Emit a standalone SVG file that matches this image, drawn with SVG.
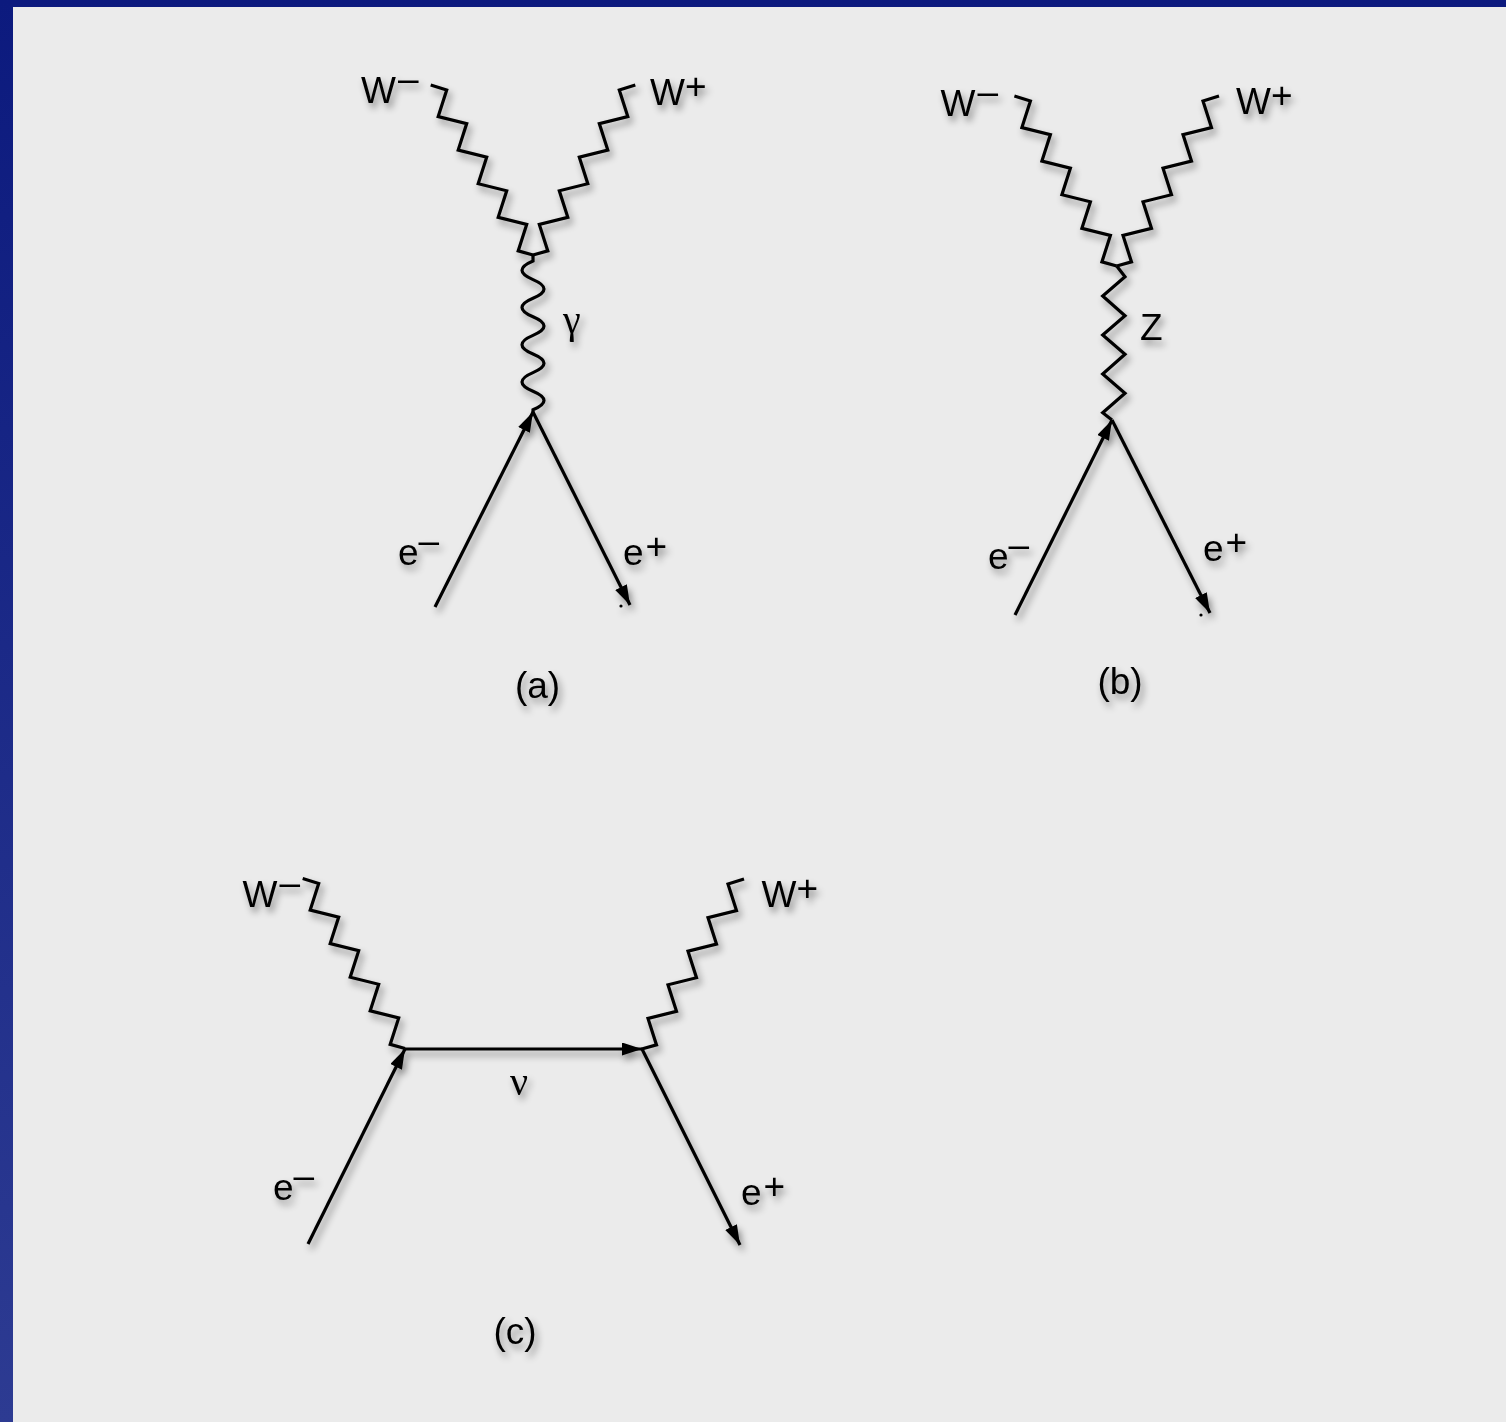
<svg xmlns="http://www.w3.org/2000/svg" width="1506" height="1422" viewBox="0 0 1506 1422">
<defs>
<linearGradient id="bg" x1="0" y1="0" x2="0" y2="1">
<stop offset="0" stop-color="#0c1a7e"/>
<stop offset="1" stop-color="#2d3b92"/>
</linearGradient>
<filter id="sh" x="-20%" y="-20%" width="140%" height="140%">
<feDropShadow dx="3" dy="5" stdDeviation="3.5" flood-color="#000" flood-opacity="0.42"/>
</filter>
<marker id="arr" markerUnits="userSpaceOnUse" markerWidth="21" markerHeight="14" refX="20" refY="6.5" orient="auto">
<path d="M0,0 L20,6.5 L0,13 Z" fill="#000"/>
</marker>
<path id="wm" d="M-102.3,-170 L-86.3,-165 L-94.8,-138.5 L-66.3,-131.4 L-74.8,-104.9 L-46.3,-97.8 L-54.8,-71.3 L-26.3,-64.2 L-34.8,-37.7 L-6.3,-30.6 L-14.8,-4.1 L0,0"/>
<path id="wp" d="M102.3,-170 L86.3,-165 L94.8,-138.5 L66.3,-131.4 L74.8,-104.9 L46.3,-97.8 L54.8,-71.3 L26.3,-64.2 L34.8,-37.7 L6.3,-30.6 L14.8,-4.1 L0,0"/>
</defs>
<style>
.ln{fill:none;stroke:#000;stroke-width:3.2;stroke-linejoin:miter;stroke-linecap:butt}
.ar{marker-end:url(#arr)}
.lbl{font-family:"Liberation Sans",Arial,Helvetica,sans-serif;font-size:37px;fill:#000}
.gk{font-family:"Liberation Serif","Times New Roman",serif;font-size:40px;fill:#000}
.cap{font-family:"Liberation Sans",Arial,Helvetica,sans-serif;font-size:37px;fill:#000;text-anchor:middle}
</style>
<rect x="0" y="0" width="1506" height="1422" fill="url(#bg)"/>
<rect x="13" y="7" width="1493" height="1415" fill="#ebebeb"/>

<g id="connectors" filter="url(#sh)">
<!-- diagram (a) -->
<use href="#wm" class="ln" transform="translate(533,255)"/>
<use href="#wp" class="ln" transform="translate(533,255)"/>
<path class="ln" d="M533,255 L533,261 Q511,270.3 533,279.6 T533,298.2 T533,316.8 T533,335.4 T533,354 T533,372.6 T533,391.2 T533,409.8 L533,412"/>
<line class="ln ar" x1="435" y1="607" x2="533" y2="412"/>
<line class="ln ar" x1="533" y1="412" x2="630" y2="605"/>
<circle cx="621" cy="606" r="1.6" fill="#000"/>
<!-- diagram (b) -->
<use href="#wm" class="ln" transform="translate(1116.7,266)"/>
<use href="#wp" class="ln" transform="translate(1116.7,266)"/>
<path class="ln" d="M1116.7,266 L1125,276.7 L1102.7,296 L1125,315.7 L1102.7,335 L1125,354.3 L1102.7,374 L1125,393.3 L1102.7,412.7 L1112,420"/>
<line class="ln ar" x1="1015" y1="615" x2="1112" y2="420"/>
<line class="ln ar" x1="1112" y1="420" x2="1210" y2="613"/>
<circle cx="1201" cy="615" r="1.6" fill="#000"/>
<!-- diagram (c) -->
<use href="#wm" class="ln" transform="translate(405,1048.5)"/>
<use href="#wp" class="ln" transform="translate(641.7,1049)"/>
<line class="ln ar" x1="308" y1="1244" x2="405" y2="1049"/>
<line class="ln ar" x1="405" y1="1049" x2="642" y2="1049"/>
<line class="ln ar" x1="642" y1="1049" x2="740" y2="1245"/>
</g>

<g id="labels" filter="url(#sh)">
<g id="a-wminus"><text class="lbl" x="361" y="103">W<tspan dx="2" dy="-12">–</tspan></text></g>
<g id="a-wplus"><text class="lbl" x="650" y="105">W<tspan dy="-6">+</tspan></text></g>
<g id="a-gamma"><text class="gk" x="563" y="333">γ</text></g>
<g id="a-eminus"><text class="lbl" x="398" y="565">e<tspan dy="-12">–</tspan></text></g>
<g id="a-eplus"><text class="lbl" x="623" y="565">e<tspan dx="2" dy="-6">+</tspan></text></g>
<g id="a-cap"><text class="cap" x="537.5" y="698">(a)</text></g>

<g id="b-wminus"><text class="lbl" x="940.5" y="116">W<tspan dx="2" dy="-12">–</tspan></text></g>
<g id="b-wplus"><text class="lbl" x="1236" y="113.5">W<tspan dy="-6">+</tspan></text></g>
<g id="b-z"><text class="lbl" x="1140" y="340">Z</text></g>
<g id="b-eminus"><text class="lbl" x="988" y="569">e<tspan dy="-12">–</tspan></text></g>
<g id="b-eplus"><text class="lbl" x="1203" y="561">e<tspan dx="2" dy="-6">+</tspan></text></g>
<g id="b-cap"><text class="cap" x="1120" y="694">(b)</text></g>

<g id="c-wminus"><text class="lbl" x="242.5" y="907">W<tspan dx="2" dy="-12">–</tspan></text></g>
<g id="c-wplus"><text class="lbl" x="761.5" y="907">W<tspan dy="-6">+</tspan></text></g>
<g id="c-nu"><text class="gk" x="510" y="1095">ν</text></g>
<g id="c-eminus"><text class="lbl" x="273" y="1200">e<tspan dy="-12">–</tspan></text></g>
<g id="c-eplus"><text class="lbl" x="741" y="1205">e<tspan dx="2" dy="-6">+</tspan></text></g>
<g id="c-cap"><text class="cap" x="515" y="1344">(c)</text></g>
</g>
</svg>
